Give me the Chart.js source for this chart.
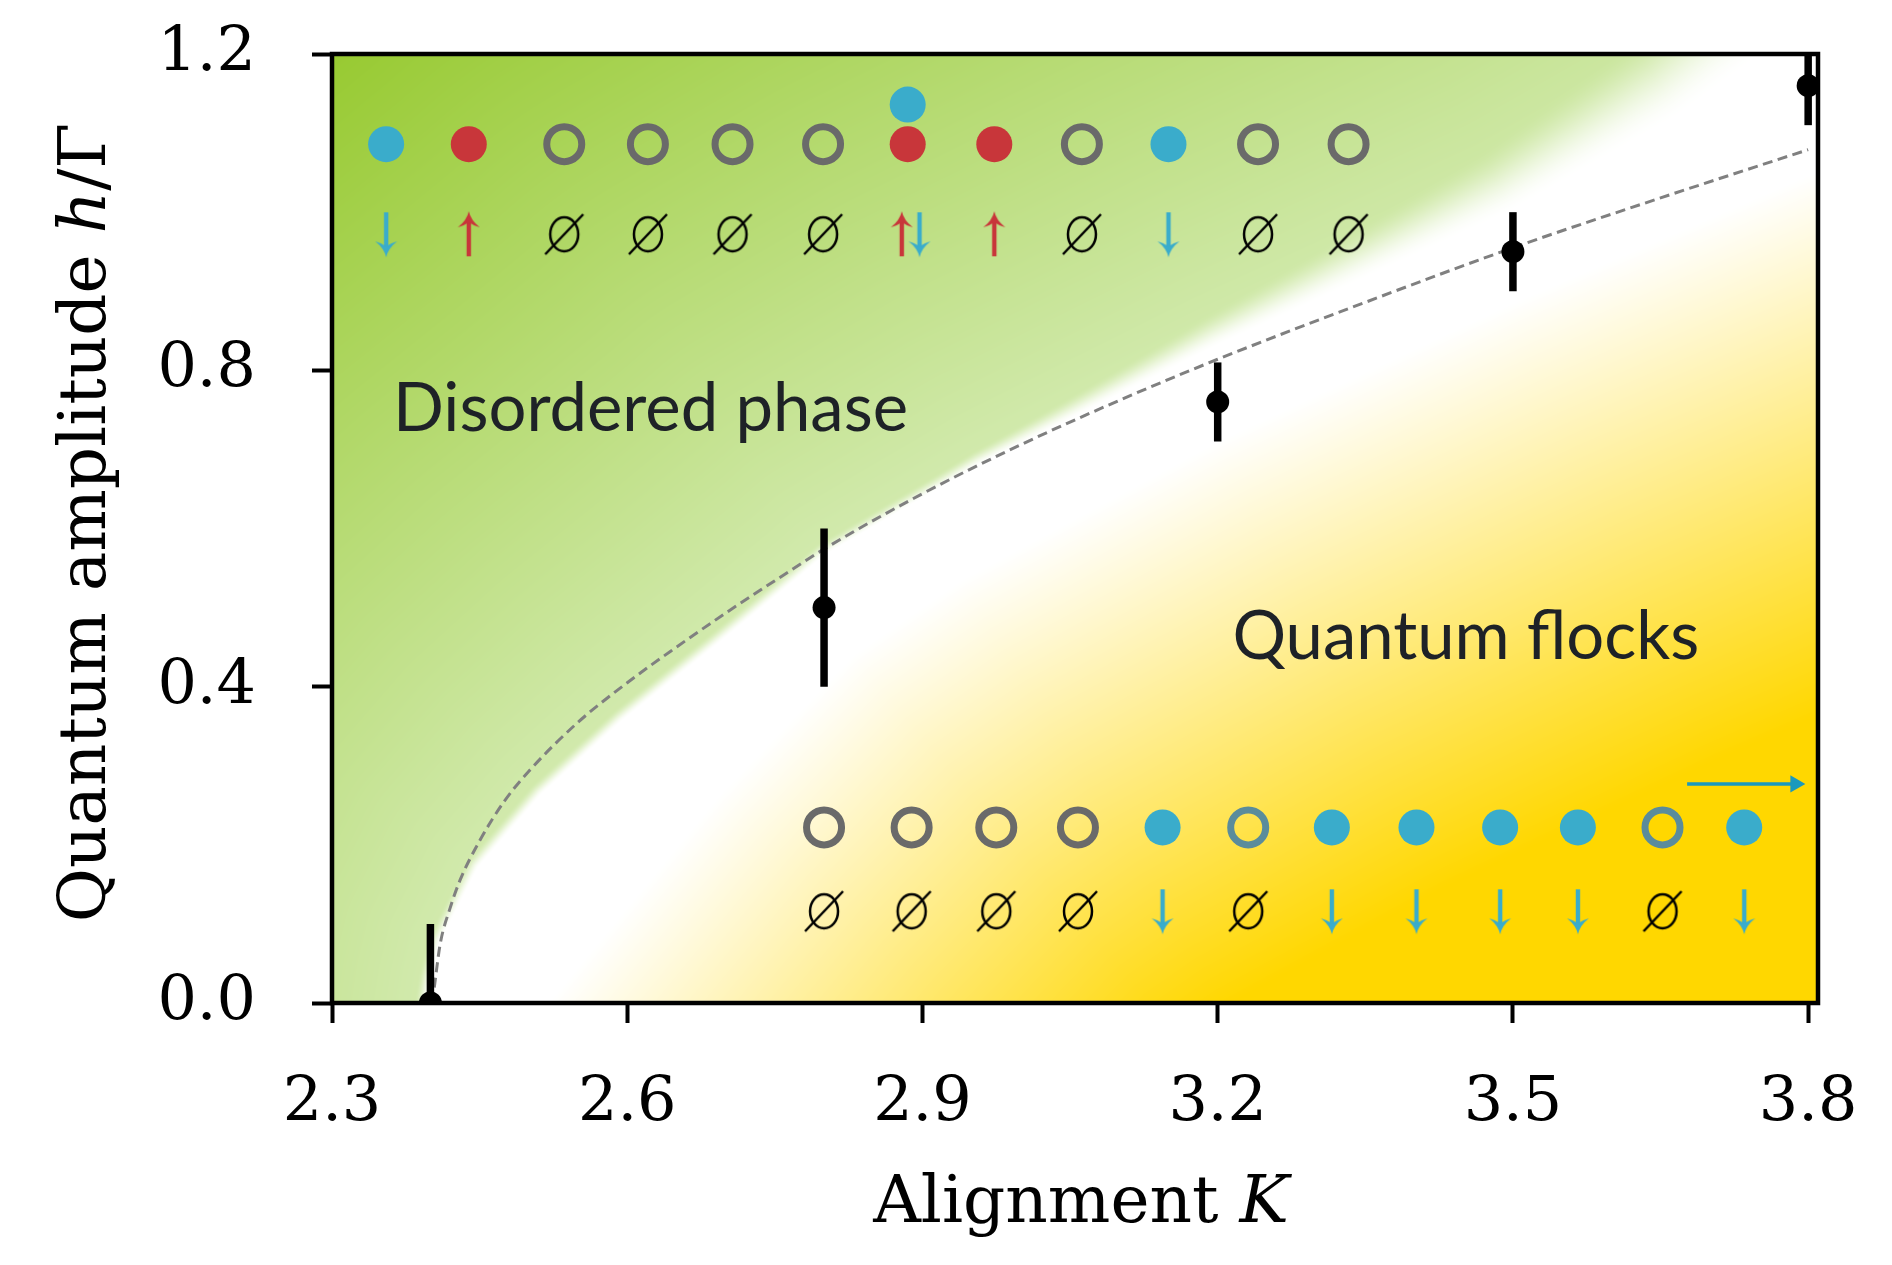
<!DOCTYPE html>
<html>
<head>
<meta charset="utf-8">
<title>Quantum flocks phase diagram</title>
<script src="https://cdn.jsdelivr.net/npm/chart.js@4.4.1/dist/chart.umd.min.js"></script>
<style>
  html, body { margin: 0; padding: 0; background: #fff; }
  #wrap { width: 1892px; height: 1265px; }
</style>
</head>
<body>
<div id="wrap"><canvas id="phaseChart" width="1892" height="1265"></canvas></div>
<script>
// ── axes ──
const xTicks = [2.3, 2.6, 2.9, 3.2, 3.5, 3.8];
const yTicks = [0.0, 0.4, 0.8, 1.2];

// ── critical points (with symmetric error) ──
const critK = [2.4, 2.8, 3.2, 3.5, 3.8];
const critH = [0.0, 0.5, 0.76, 0.95, 1.16];
const critErr = [0.1, 0.1, 0.05, 0.05, 0.05];

// ── dashed guide curve ──
const guideK = [2.402, 2.405, 2.41, 2.42, 2.43, 2.45, 2.475, 2.5, 2.55, 2.6, 2.65, 2.7, 2.75, 2.8, 2.9, 3.0, 3.1, 3.2, 3.35, 3.5, 3.65, 3.8];
const guideH = [0.0, 0.03, 0.075, 0.12, 0.155, 0.205, 0.255, 0.293, 0.355, 0.405, 0.45, 0.493, 0.534, 0.574, 0.644, 0.706, 0.762, 0.814, 0.886, 0.955, 1.018, 1.079];

// ── background phase edges ──
const greenEdgeK = [2.396, 2.398, 2.402, 2.411, 2.449, 2.513, 2.595, 2.694, 2.777, 2.8, 2.958, 3.2, 3.5, 3.67, 3.78, 3.84];
const greenEdgeH = [-0.02, 0.0, 0.032, 0.078, 0.171, 0.263, 0.356, 0.455, 0.54, 0.565, 0.68, 0.83, 1.0, 1.12, 1.22, 1.28];
const yellowEdgeK = [2.515, 2.52, 2.694, 2.83, 2.94, 3.2, 3.5, 3.77, 3.9];
const yellowEdgeH = [-0.02, 0.0, 0.263, 0.44, 0.535, 0.71, 0.885, 1.03, 1.1];

// ── cartoon rows ──
const topRowK = [2.355, 2.439, 2.536, 2.621, 2.707, 2.799, 2.885, 2.973, 3.062, 3.150, 3.241, 3.333];
const topRowState = ['blue', 'red', 'empty', 'empty', 'empty', 'empty', 'red', 'red', 'empty', 'blue', 'empty', 'empty'];
const topRowH = 1.086;
const topExtraK = [2.885];
const topExtraH = [1.136];
const topSpinK = [2.355, 2.439, 2.536, 2.621, 2.707, 2.799, 2.879, 2.897, 2.973, 3.062, 3.150, 3.241, 3.333];
const topSpinKind = ['down', 'up', 'none', 'none', 'none', 'none', 'up', 'down', 'up', 'none', 'down', 'none', 'none'];
const topSpinH = 0.972;

const bottomRowK = [2.800, 2.889, 2.975, 3.058, 3.144, 3.231, 3.316, 3.402, 3.487, 3.566, 3.652, 3.735];
const bottomRowState = ['empty', 'empty', 'empty', 'empty', 'blue', 'faded', 'blue', 'blue', 'blue', 'blue', 'faded', 'blue'];
const bottomRowH = 0.222;
const bottomSpinKind = ['none', 'none', 'none', 'none', 'down', 'none', 'down', 'down', 'down', 'down', 'none', 'down'];
const bottomSpinH = 0.116;

const flowK = [3.677, 3.787];
const flowH = [0.277, 0.277];

const phaseNames = ['Disordered phase', 'Quantum flocks'];
const phaseNameK = [2.362, 3.215];
const phaseNameH = [0.723, 0.435];

// ── colours ──
const BLUE = '#3aaccb';
const RED = '#c8363a';
const GREY = '#6a6a6a';
const FADED = '#5b8c9b';
const SERIF = "'DejaVu Serif', serif";

// pick the points of a row that are in a given state
function rowPoints(ks, h, states, want) {
    const out = [];
    ks.forEach((k, i) => { if (states[i] === want) out.push({ x: k, y: h }); });
    return out;
}

// small glyphs used as point styles
function makeArrow(color, dir) {
    const c = document.createElement('canvas');
    c.width = 30; c.height = 48;
    const g = c.getContext('2d');
    if (dir === 'up') { g.translate(0, 48); g.scale(1, -1); }
    g.strokeStyle = color;
    g.fillStyle = color;
    g.lineWidth = 4.4;
    g.beginPath(); g.moveTo(15, 2); g.lineTo(15, 40); g.stroke();
    g.beginPath();
    g.moveTo(15, 47);
    g.quadraticCurveTo(17, 38, 26, 31);
    g.quadraticCurveTo(19, 33, 15, 36);
    g.quadraticCurveTo(11, 33, 4, 31);
    g.quadraticCurveTo(13, 38, 15, 47);
    g.fill();
    return c;
}

function makeEmptySet() {
    const c = document.createElement('canvas');
    c.width = 46; c.height = 46;
    const g = c.getContext('2d');
    g.strokeStyle = '#000';
    g.lineWidth = 2.5;
    g.beginPath(); g.ellipse(23, 23, 14, 17, 0, 0, Math.PI * 2); g.stroke();
    g.beginPath(); g.moveTo(4, 43); g.lineTo(42, 3); g.stroke();
    return c;
}

const arrowDown = makeArrow(BLUE, 'down');
const arrowUp = makeArrow(RED, 'up');
const emptySet = makeEmptySet();

// spins of both rows as point lists
const spinDown = rowPoints(topSpinK, topSpinH, topSpinKind, 'down').concat(rowPoints(bottomRowK, bottomSpinH, bottomSpinKind, 'down'));
const spinUp = rowPoints(topSpinK, topSpinH, topSpinKind, 'up');
const spinNone = rowPoints(topSpinK, topSpinH, topSpinKind, 'none').concat(rowPoints(bottomRowK, bottomSpinH, bottomSpinKind, 'none'));

// ═══════════════════════════════════════════
// 背景: green / white / yellow phase map
// ═══════════════════════════════════════════
function edgeYAt(poly, px) {
    if (px <= poly[0][0]) return poly[0][1];
    for (let i = 1; i < poly.length; i++) {
        if (px <= poly[i][0]) {
            const t = (px - poly[i - 1][0]) / (poly[i][0] - poly[i - 1][0]);
            return poly[i - 1][1] + t * (poly[i][1] - poly[i - 1][1]);
        }
    }
    return poly[poly.length - 1][1];
}

function distToPoly(poly, px, py) {
    let best = Infinity;
    for (let i = 1; i < poly.length; i++) {
        const ax = poly[i - 1][0], ay = poly[i - 1][1];
        const bx = poly[i][0], by = poly[i][1];
        const dx = bx - ax, dy = by - ay;
        let t = ((px - ax) * dx + (py - ay) * dy) / (dx * dx + dy * dy);
        t = Math.max(0, Math.min(1, t));
        const ex = ax + t * dx - px, ey = ay + t * dy - py;
        const d = ex * ex + ey * ey;
        if (d < best) best = d;
    }
    return Math.sqrt(best);
}

const phaseBackground = {
    id: 'phaseBackground',
    beforeDatasetsDraw(chart) {
        const { ctx, chartArea: a, scales: { x, y } } = chart;
        const w = Math.round(a.right - a.left), h = Math.round(a.bottom - a.top);
        if (!chart.$bg || chart.$bg.width !== w || chart.$bg.height !== h) {
            const off = document.createElement('canvas');
            off.width = w; off.height = h;
            const octx = off.getContext('2d');
            const img = octx.createImageData(w, h);
            const toPx = (ks, hs) => ks.map((k, i) => [x.getPixelForValue(k) - a.left, y.getPixelForValue(hs[i]) - a.top]);
            const gEdge = toPx(greenEdgeK, greenEdgeH);
            const yEdge = toPx(yellowEdgeK, yellowEdgeH);
            const pale = [210, 234, 174], strong = [150, 201, 46], gold = [255, 215, 0];
            for (let i = 0; i < w; i++) {
                const px = i + 0.5;
                const k = x.getValueForPixel(px + a.left);
                const gy = edgeYAt(gEdge, px);
                const yy = edgeYAt(yEdge, px);
                const s = Math.max(0, Math.min(1, (k - 2.9) / 0.8));
                const soft = 14 + 90 * Math.pow(s, 1.5);
                for (let j = 0; j < h; j++) {
                    const py = j + 0.5;
                    let r = 255, gg = 255, b = 255;
                    if (py < gy) {
                        const d = distToPoly(gEdge, px, py);
                        const ramp = Math.min(1, d / 720);
                        let al = Math.min(1, d / soft);
                        al = al * al * (3 - 2 * al);
                        r = 255 + al * (pale[0] + ramp * (strong[0] - pale[0]) - 255);
                        gg = 255 + al * (pale[1] + ramp * (strong[1] - pale[1]) - 255);
                        b = 255 + al * (pale[2] + ramp * (strong[2] - pale[2]) - 255);
                    } else if (py > yy) {
                        const d = distToPoly(yEdge, px, py);
                        const t = Math.min(1, d / 500);
                        r = 255 + t * (gold[0] - 255);
                        gg = 255 + t * (gold[1] - 255);
                        b = 255 + t * (gold[2] - 255);
                    }
                    const o = (j * w + i) * 4;
                    img.data[o] = r; img.data[o + 1] = gg; img.data[o + 2] = b; img.data[o + 3] = 255;
                }
            }
            octx.putImageData(img, 0, 0);
            chart.$bg = off;
        }
        ctx.drawImage(chart.$bg, a.left, a.top);
    }
};

// error bars under the critical points
const errorBars = {
    id: 'errorBars',
    beforeDatasetDraw(chart, args) {
        if (chart.data.datasets[args.index].label !== 'critical') return;
        const { ctx, chartArea: a, scales: { x, y } } = chart;
        ctx.save();
        ctx.beginPath();
        ctx.rect(a.left, a.top, a.right - a.left, a.bottom - a.top);
        ctx.clip();
        ctx.strokeStyle = '#000';
        ctx.lineWidth = 7.5;
        critK.forEach((k, i) => {
            const px = x.getPixelForValue(k);
            ctx.beginPath();
            ctx.moveTo(px, y.getPixelForValue(critH[i] - critErr[i]));
            ctx.lineTo(px, y.getPixelForValue(critH[i] + critErr[i]));
            ctx.stroke();
        });
        ctx.restore();
    }
};

// frame, phase names and axis titles
const frameAndLabels = {
    id: 'frameAndLabels',
    afterDatasetsDraw(chart) {
        const { ctx, chartArea: a, scales: { x, y } } = chart;
        ctx.save();
        ctx.fillStyle = '#1e2227';
        ctx.font = "67px Lato";
        ctx.textAlign = 'left';
        ctx.textBaseline = 'alphabetic';
        phaseNames.forEach((t, i) => {
            ctx.fillText(t, x.getPixelForValue(phaseNameK[i]), y.getPixelForValue(phaseNameH[i]));
        });
        ctx.strokeStyle = '#000';
        ctx.lineWidth = 4.5;
        ctx.strokeRect(a.left, a.top, a.right - a.left, a.bottom - a.top);
        ctx.restore();
    },
    afterDraw(chart) {
        const { ctx, chartArea: a } = chart;
        const up = "66px " + SERIF, it = "italic 66px " + SERIF;
        const drawParts = (parts, cx, cy) => {
            let total = 0;
            parts.forEach(p => { ctx.font = p[1]; total += ctx.measureText(p[0]).width; });
            let pos = cx - total / 2;
            parts.forEach(p => {
                ctx.font = p[1];
                ctx.fillText(p[0], pos, cy);
                pos += ctx.measureText(p[0]).width;
            });
        };
        ctx.save();
        ctx.fillStyle = '#000';
        ctx.textAlign = 'left';
        ctx.textBaseline = 'alphabetic';
        drawParts([['Alignment ', up], ['K', it]], (a.left + a.right) / 2 + 6, a.bottom + 219);
        ctx.translate(a.left - 227, (a.top + a.bottom) / 2 - 6);
        ctx.rotate(-Math.PI / 2);
        drawParts([['Quantum amplitude ', up], ['h', it], ['/Γ', up]], 0, 0);
        ctx.restore();
    }
};

// keep the plot frame where the layout padding puts it
function noScalePadding(s) {
    s.paddingLeft = 0; s.paddingRight = 0; s.paddingTop = 0; s.paddingBottom = 0;
}

new Chart(document.getElementById('phaseChart'), {
    type: 'scatter',
    data: {
        datasets: [{
            label: 'flow',
            type: 'line',
            data: flowK.map((k, i) => ({ x: k, y: flowH[i] })),
            borderColor: '#1a99bd',
            backgroundColor: '#1a99bd',
            borderWidth: 3.5,
            pointStyle: 'triangle',
            pointRotation: 90,
            pointRadius: [0, 10],
            pointBorderWidth: 0,
            order: 0
        }, {
            label: 'spin down',
            data: spinDown,
            pointStyle: arrowDown,
            order: 1
        }, {
            label: 'spin up',
            data: spinUp,
            pointStyle: arrowUp,
            order: 1
        }, {
            label: 'empty',
            data: spinNone,
            pointStyle: emptySet,
            order: 1
        }, {
            label: 'blue sites',
            data: rowPoints(topRowK, topRowH, topRowState, 'blue')
                .concat(rowPoints(bottomRowK, bottomRowH, bottomRowState, 'blue'))
                .concat(topExtraK.map((k, i) => ({ x: k, y: topExtraH[i] }))),
            backgroundColor: BLUE,
            borderWidth: 0,
            pointRadius: 18,
            order: 1
        }, {
            label: 'red sites',
            data: rowPoints(topRowK, topRowH, topRowState, 'red'),
            backgroundColor: RED,
            borderWidth: 0,
            pointRadius: 18,
            order: 1
        }, {
            label: 'empty sites',
            data: rowPoints(topRowK, topRowH, topRowState, 'empty')
                .concat(rowPoints(bottomRowK, bottomRowH, bottomRowState, 'empty')),
            backgroundColor: 'transparent',
            borderColor: GREY,
            borderWidth: 7,
            pointRadius: 17.5,
            order: 1
        }, {
            label: 'faded sites',
            data: rowPoints(bottomRowK, bottomRowH, bottomRowState, 'faded'),
            backgroundColor: 'transparent',
            borderColor: FADED,
            borderWidth: 7,
            pointRadius: 17.5,
            order: 1
        }, {
            label: 'critical',
            data: critK.map((k, i) => ({ x: k, y: critH[i] })),
            backgroundColor: '#000',
            borderWidth: 0,
            pointRadius: 11.5,
            clip: 0,
            order: 5
        }, {
            label: 'guide',
            type: 'line',
            data: guideK.map((k, i) => ({ x: k, y: guideH[i] })),
            borderColor: '#808080',
            borderWidth: 3,
            borderDash: [10, 5.5],
            pointRadius: 0,
            cubicInterpolationMode: 'monotone',
            order: 10
        }]
    },
    options: {
        responsive: false,
        animation: false,
        devicePixelRatio: 1,
        layout: { padding: { left: 0, top: 54, right: 74, bottom: 0 } },
        plugins: {
            legend: { display: false },
            tooltip: { enabled: false }
        },
        scales: {
            x: {
                type: 'linear',
                min: 2.3,
                max: 3.81,
                afterBuildTicks: s => { s.ticks = xTicks.map(v => ({ value: v })); },
                afterFit: s => { s.height = 262; noScalePadding(s); },
                ticks: {
                    callback: v => v.toFixed(1),
                    font: { family: SERIF, size: 62 },
                    color: '#000',
                    padding: 44,
                    autoSkip: false,
                    maxRotation: 0
                },
                grid: { drawOnChartArea: false, tickLength: 20, tickWidth: 4, tickColor: '#000', color: '#000' },
                border: { display: false }
            },
            y: {
                type: 'linear',
                min: 0,
                max: 1.2,
                afterBuildTicks: s => { s.ticks = yTicks.map(v => ({ value: v })); },
                afterFit: s => { s.width = 332; noScalePadding(s); },
                ticks: {
                    callback: v => v.toFixed(1),
                    font: { family: SERIF, size: 62 },
                    color: '#000',
                    padding: 56,
                    autoSkip: false
                },
                grid: { drawOnChartArea: false, tickLength: 20, tickWidth: 4, tickColor: '#000', color: '#000' },
                border: { display: false }
            }
        }
    },
    plugins: [phaseBackground, errorBars, frameAndLabels]
});
</script>
</body>
</html>
